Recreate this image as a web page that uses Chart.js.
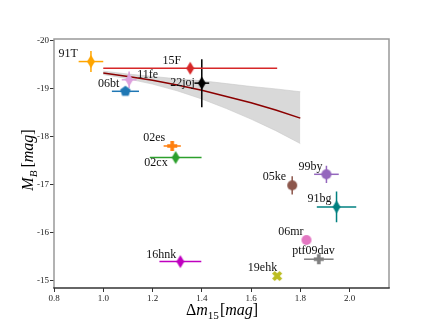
<!DOCTYPE html>
<html><head><meta charset="utf-8">
<script src="https://cdn.jsdelivr.net/npm/chart.js@4/dist/chart.umd.min.js"></script>
<style>html,body{margin:0;padding:0;background:#fff}#wrap{width:432px;height:324px}</style>
</head><body><div id="wrap"><canvas id="c" width="432" height="324"></canvas></div>
<script>
// ---- data ----
const names   = ['91T','15F','22joj','11fe','06bt','02es','02cx','16hnk','05ke','99by','91bg','06mr','ptf09dav','19ehk'];
const dm15    = [0.95, 1.353, 1.40, 1.105, 1.09, 1.28, 1.294, 1.313, 1.767, 1.906, 1.947, 1.825, 1.875, 1.706];
const MB      = [-19.56, -19.42, -19.11, -19.18, -18.94, -17.80, -17.56, -15.39, -16.98, -17.21, -16.53, -15.84, -15.44, -15.09];
const dm15Err = [0.05, 0.353, 0.03, 0.03, 0.055, 0.035, 0.105, 0.085, 0, 0.05, 0.08, 0, 0.06, 0];
const MBErr   = [0.22, 0, 0.5, 0.17, 0, 0, 0, 0, 0.19, 0.18, 0.32, 0, 0, 0];
const colors  = ['#FFA500','#d62728','#000000','#DDA0DD','#1f77b4','#ff7f0e','#2ca02c','#bf00bf','#8c564b','#9467bd','#008080','#e377c2','#7f7f7f','#bcbd22'];
const markers = ['d','d','d','d','p','P','d','d','o','o','d','o','P','X'];
const fitX    = [1.0, 1.1, 1.2, 1.3, 1.4, 1.5, 1.6, 1.7, 1.8];
const fitY    = [-19.32, -19.25, -19.17, -19.07, -18.96, -18.83, -18.70, -18.55, -18.38];
const bandLo  = [-19.36, -19.30, -19.25, -19.20, -19.16, -19.10, -19.04, -18.99, -18.93];
const bandHi  = [-19.29, -19.20, -19.09, -18.95, -18.78, -18.58, -18.36, -18.12, -17.85];
const xTicks  = [0.8, 1.0, 1.2, 1.4, 1.6, 1.8, 2.0];
const yTicks  = [-20, -19, -18, -17, -16, -15];

// ---- label placement (pixels relative to point) ----
const labelPos = {
  '91T':[-13,-5,'right'], '15F':[-9,-4,'right'], '22joj':[-7,3,'right'], '11fe':[8,-2,'left'],
  '06bt':[-6,-4,'right'], '02es':[-7,-5,'right'], '02cx':[-8,8,'right'], '16hnk':[-4,-4,'right'],
  '05ke':[-6,-5,'right'], '99by':[-4,-4,'right'], '91bg':[-5,-5,'right'], '06mr':[-3,-5,'right'],
  'ptf09dav':[16,-5,'right'], '19ehk':[0,-5,'right']
};

function makeMarker(shape, color){
  const S = 16, c = document.createElement('canvas');
  c.width = S; c.height = S;
  const g = c.getContext('2d');
  g.translate(S/2, S/2);
  g.fillStyle = color;
  g.beginPath();
  if (shape === 'd') {
    g.moveTo(0,-6.5); g.lineTo(4,0); g.lineTo(0,6.5); g.lineTo(-4,0);
  } else if (shape === 'p') {
    for (let k=0;k<5;k++){ const a=-Math.PI/2+k*2*Math.PI/5; const px=5.5*Math.cos(a), py=5.5*Math.sin(a); k?g.lineTo(px,py):g.moveTo(px,py); }
  } else if (shape === 'P' || shape === 'X') {
    const a=5, w=1.8;
    const pts=[[-w,-a],[w,-a],[w,-w],[a,-w],[a,w],[w,w],[w,a],[-w,a],[-w,w],[-a,w],[-a,-w],[-w,-w]];
    const r = shape==='X' ? Math.PI/4 : 0;
    const sc = shape==='X' ? 1.05 : 1;
    pts.forEach((p,k)=>{ const x=sc*(p[0]*Math.cos(r)-p[1]*Math.sin(r)), y=sc*(p[0]*Math.sin(r)+p[1]*Math.cos(r)); k?g.lineTo(x,y):g.moveTo(x,y); });
  } else {
    g.arc(0,0,5,0,2*Math.PI);
  }
  g.closePath(); g.fill();
  return c;
}

const datasets = [];
// markers (on top)
names.forEach((n,i)=>{
  datasets.push({label:n, data:[{x:dm15[i], y:MB[i]}], pointStyle:makeMarker(markers[i], colors[i]),
    pointRadius:5, backgroundColor:colors[i], borderWidth:0, showLine:false, order:0});
});
// error bars
names.forEach((n,i)=>{
  if (dm15Err[i] > 0) datasets.push({data:[{x:dm15[i]-dm15Err[i], y:MB[i]},{x:dm15[i]+dm15Err[i], y:MB[i]}],
    showLine:true, borderColor:colors[i], borderWidth:1.5, pointRadius:0, order:1});
  if (MBErr[i] > 0) datasets.push({data:[{x:dm15[i], y:MB[i]-MBErr[i]},{x:dm15[i], y:MB[i]+MBErr[i]}],
    showLine:true, borderColor:colors[i], borderWidth:1.5, pointRadius:0, order:1});
});
// fit line
datasets.push({data:fitX.map((x,i)=>({x, y:fitY[i]})), showLine:true, borderColor:'#8B0000', borderWidth:1.5, pointRadius:0, order:2});
// band
const bandLoIdx = datasets.length;
datasets.push({data:fitX.map((x,i)=>({x, y:bandLo[i]})), showLine:true, borderColor:'#c8c8c8', borderWidth:0.6, pointRadius:0, fill:false, order:3});
datasets.push({data:fitX.map((x,i)=>({x, y:bandHi[i]})), showLine:true, borderColor:'#c8c8c8', borderWidth:0.6, pointRadius:0,
  fill:{target:bandLoIdx}, backgroundColor:'#d9d9d9', order:4});

function drawMath(ctx, parts, size){
  const widths = parts.map(p=>{
    ctx.font = (p.it?'italic ':'') + (p.sub?size*0.7:size) + 'px "Liberation Serif"';
    return ctx.measureText(p.t).width;
  });
  const total = widths.reduce((a,b)=>a+b,0);
  let x = -total/2;
  parts.forEach((p,k)=>{
    ctx.font = (p.it?'italic ':'') + (p.sub?size*0.7:size) + 'px "Liberation Serif"';
    ctx.fillText(p.t, x, p.sub? size*0.25 : 0);
    x += widths[k] + (p.gap||0);
  });
}

const decor = {
  id:'decor',
  afterDatasetsDraw(chart){
    const ctx = chart.ctx, xs = chart.scales.x, ys = chart.scales.y;
    ctx.save();
    ctx.fillStyle = '#111';
    ctx.font = '12px "Liberation Serif"';
    ctx.textBaseline = 'alphabetic';
    names.forEach((n,i)=>{
      const p = labelPos[n];
      ctx.textAlign = p[2];
      ctx.fillText(n, xs.getPixelForValue(dm15[i]) + p[0], ys.getPixelForValue(MB[i]) + p[1]);
    });
    ctx.restore();
  },
  afterDraw(chart){
    const ctx = chart.ctx, a = chart.chartArea;
    ctx.save();
    ctx.strokeStyle = '#999'; ctx.lineWidth = 1.5;
    ctx.beginPath();
    ctx.moveTo(a.left, a.bottom); ctx.lineTo(a.left, a.top); ctx.lineTo(a.right, a.top); ctx.lineTo(a.right, a.bottom);
    ctx.stroke();
    ctx.strokeStyle = '#333';
    ctx.beginPath(); ctx.moveTo(a.left-0.75, a.bottom); ctx.lineTo(a.right+0.75, a.bottom); ctx.stroke();
    ctx.fillStyle = '#000'; ctx.textAlign = 'left'; ctx.textBaseline = 'alphabetic';
    // x title
    ctx.save();
    ctx.translate((a.left+a.right)/2, 315);
    drawMath(ctx, [{t:'Δ'},{t:'m',it:true},{t:'15',sub:true,gap:1},{t:'['},{t:'mag',it:true},{t:']'}], 16);
    ctx.restore();
    // y title
    ctx.save();
    ctx.translate(33, (a.top+a.bottom)/2 - 2);
    ctx.rotate(-Math.PI/2);
    drawMath(ctx, [{t:'M',it:true},{t:'B',it:true,sub:true,gap:3},{t:'['},{t:'mag',it:true},{t:']'}], 16);
    ctx.restore();
    ctx.restore();
  }
};

const tickFont = {family:'Liberation Serif', size:9};
new Chart(document.getElementById('c'), {
  type:'scatter',
  data:{datasets},
  options:{
    responsive:false, animation:false, devicePixelRatio:1,
    layout:{padding:{top:39, right:43, left:0, bottom:0}},
    plugins:{legend:{display:false}, tooltip:{enabled:false}},
    scales:{
      x:{type:'linear', position:'bottom', min:0.8, max:2.16,
        afterBuildTicks:s=>{ s.ticks = xTicks.map(v=>({value:v})); },
        afterFit:s=>{ s.height = 36; },
        ticks:{font:tickFont, color:'#222', padding:1, maxRotation:0, autoSkip:false, callback:v=>Number(v).toFixed(1)},
        grid:{display:true, drawOnChartArea:false, drawTicks:true, tickLength:4, tickColor:'#333', tickWidth:1},
        border:{display:false}},
      y:{type:'linear', reverse:true, min:-20.03, max:-14.84,
        afterBuildTicks:s=>{ s.ticks = yTicks.map(v=>({value:v})); },
        afterFit:s=>{ s.width = 54; },
        ticks:{font:tickFont, color:'#222', padding:1, autoSkip:false, callback:v=>Number(v).toFixed(0)},
        grid:{display:true, drawOnChartArea:false, drawTicks:true, tickLength:4, tickColor:'#333', tickWidth:1},
        border:{display:false}}
    }
  },
  plugins:[decor]
});
</script></body></html>
